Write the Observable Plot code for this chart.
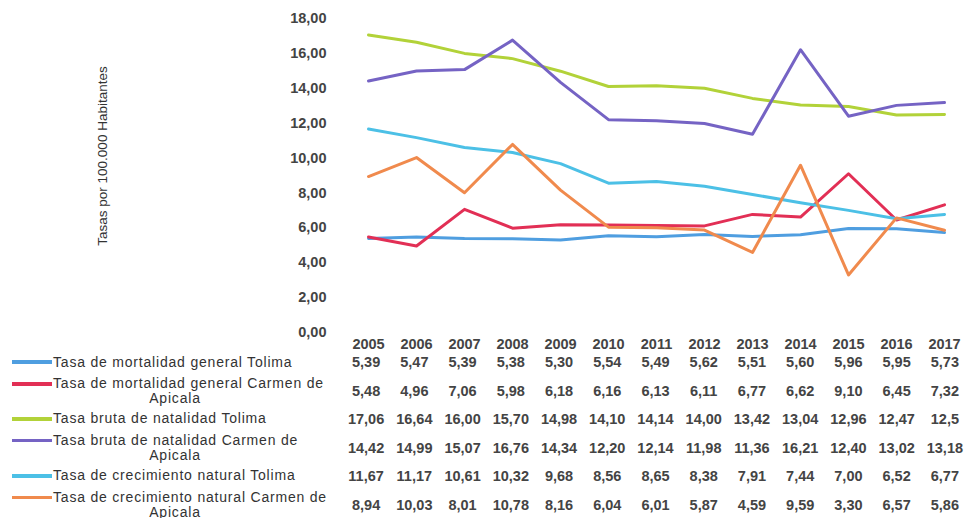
<!DOCTYPE html>
<html>
<head>
<meta charset="utf-8">
<script src="https://cdn.jsdelivr.net/npm/d3@7"></script>
<script src="https://cdn.jsdelivr.net/npm/@observablehq/plot@0.6"></script>
<style>
  html, body { margin: 0; padding: 0; background: #fff; }
  #wrap { position: relative; width: 969px; font-family: "Liberation Sans", Arial, sans-serif; color: #333; }
  #chart svg { display: block; }
  #ytitle { position: absolute; left: 102px; top: 156px; transform: translate(-50%, -50%) rotate(-90deg);
            white-space: nowrap; font-size: 13.5px; color: #333; }
  .row { display: grid; grid-template-columns: 342px repeat(13, 1fr); height: 28.4px; align-items: center; }
  .lab { padding-left: 12px; font-size: 14px; line-height: 15px; letter-spacing: 0.8px; }
  .lab .l1 { display: flex; align-items: center; white-space: nowrap; }
  .lab .l2 { text-align: center; padding-right: 4px; }
  .sw { width: 40px; height: 3.5px; margin-right: 1px; flex: none; }
  .val { text-align: center; font-size: 14.5px; font-weight: bold; color: #444; white-space: nowrap; }
</style>
</head>
<body>
<div id="wrap">
  <div id="chart"></div>
  <div id="ytitle"></div>
  <div id="table"></div>
</div>
<script>
const years = [2005, 2006, 2007, 2008, 2009, 2010, 2011, 2012, 2013, 2014, 2015, 2016, 2017];
const yTicks = [0, 2, 4, 6, 8, 10, 12, 14, 16, 18];
const yTitle = "Tasas por 100.000 Habitantes";

const seriesNames = [
  "Tasa de mortalidad general Tolima",
  "Tasa de mortalidad general Carmen de Apicala",
  "Tasa bruta de natalidad Tolima",
  "Tasa bruta de natalidad Carmen de Apicala",
  "Tasa de crecimiento natural Tolima",
  "Tasa de crecimiento natural  Carmen de Apicala"
];
const seriesColors = ["#4f9ee0", "#e22f55", "#b2d239", "#7563c4", "#4cc0e6", "#f08a4d"];

const mortalidadTolima = [5.39, 5.47, 5.39, 5.38, 5.30, 5.54, 5.49, 5.62, 5.51, 5.60, 5.96, 5.95, 5.73];
const mortalidadCarmen = [5.48, 4.96, 7.06, 5.98, 6.18, 6.16, 6.13, 6.11, 6.77, 6.62, 9.10, 6.45, 7.32];
const natalidadTolima = [17.06, 16.64, 16.00, 15.70, 14.98, 14.10, 14.14, 14.00, 13.42, 13.04, 12.96, 12.47, 12.5];
const natalidadCarmen = [14.42, 14.99, 15.07, 16.76, 14.34, 12.20, 12.14, 11.98, 11.36, 16.21, 12.40, 13.02, 13.18];
const crecimientoTolima = [11.67, 11.17, 10.61, 10.32, 9.68, 8.56, 8.65, 8.38, 7.91, 7.44, 7.00, 6.52, 6.77];
const crecimientoCarmen = [8.94, 10.03, 8.01, 10.78, 8.16, 6.04, 6.01, 5.87, 4.59, 9.59, 3.30, 6.57, 5.86];
// cells shown in the source table with a single decimal: [series index, year]
const oneDecimalCells = [[2, 2017]];

const seriesValues = [mortalidadTolima, mortalidadCarmen, natalidadTolima, natalidadCarmen, crecimientoTolima, crecimientoCarmen];

const data = seriesNames.flatMap((name, s) =>
  years.map((year, i) => ({ serie: name, year, value: seriesValues[s][i] }))
);

const fmt = (v, digits) => v.toFixed(digits).replace(".", ",");
const font = "'Liberation Sans', Arial, sans-serif";

const plot = Plot.plot({
  width: 969,
  height: 348,
  marginLeft: 342,
  marginRight: 0,
  marginTop: 18,
  marginBottom: 16,
  style: { fontFamily: font, fontSize: "14.5px", color: "#444", background: "#fff", overflow: "visible" },
  x: { type: "point", domain: years, padding: 0.5, label: null },
  y: { domain: [0, 18], label: null },
  color: { domain: seriesNames, range: seriesColors },
  marks: [
    Plot.axisY({ ticks: yTicks, tickSize: 0, tickPadding: 16, tickFormat: d => fmt(d, 2), label: null, fontSize: 14.5, fontWeight: "bold" }),
    Plot.axisX({ tickSize: 0, tickPadding: 6, tickFormat: d => String(d), label: null, fontSize: 14.5, fontWeight: "bold" }),
    Plot.lineY(data, { x: "year", y: "value", z: "serie", stroke: "serie", strokeWidth: 3 })
  ]
});
document.getElementById("chart").appendChild(plot);
document.getElementById("ytitle").textContent = yTitle;

// data table under the chart
const table = d3.select("#table");
seriesNames.forEach((name, s) => {
  const row = table.append("div").attr("class", "row");
  const lab = row.append("div").attr("class", "lab");
  const idx = name.indexOf(" Apicala");
  const line1 = idx >= 0 ? name.slice(0, idx).replace(/\s+/g, " ") : name;
  const l1 = lab.append("div").attr("class", "l1");
  l1.append("span").attr("class", "sw").style("background", seriesColors[s]);
  l1.append("span").text(line1);
  if (idx >= 0) lab.append("div").attr("class", "l2").text("Apicala");
  years.forEach((y, i) => {
    const one = oneDecimalCells.some(([si, yy]) => si === s && yy === y);
    row.append("div").attr("class", "val").text(fmt(seriesValues[s][i], one ? 1 : 2));
  });
});
</script>
</body>
</html>
